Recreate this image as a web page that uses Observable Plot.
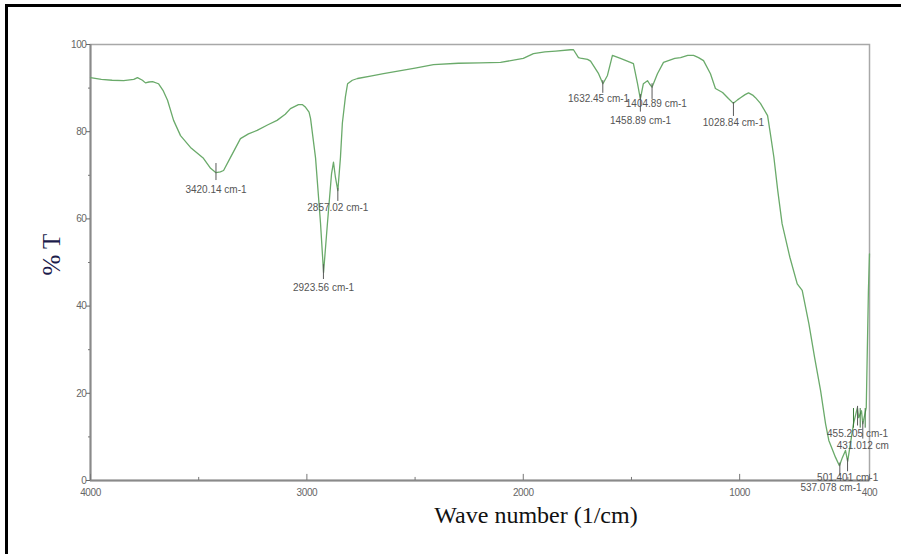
<!DOCTYPE html>
<html>
<head>
<meta charset="utf-8">
<script src="https://cdn.jsdelivr.net/npm/d3@7"></script>
<script src="https://cdn.jsdelivr.net/npm/@observablehq/plot@0.6"></script>
<style>
  html, body { margin: 0; padding: 0; background: #fff; width: 901px; height: 554px; overflow: hidden; }
  #wrap { position: relative; width: 901px; height: 554px; }
  #border { position: absolute; left: 5px; top: 4px; right: -10px; bottom: -10px;
            border-left: 3px solid #000; border-top: 3px solid #000; pointer-events: none; }
  #chart svg { display: block; position: absolute; left: 0; top: 0; }
  #chart svg text.narrow, #chart svg g[aria-label^="y-axis"] text, #chart svg g[aria-label^="x-axis"] text { letter-spacing: -0.4px; }
</style>
</head>
<body>
<div id="wrap"><div id="chart"></div><div id="border"></div></div>
<script>
// Spectrum: wavenumber (1/cm) and % transmittance
const wavenumbers = [4000, 3950, 3900, 3847, 3800, 3783, 3760, 3746, 3730, 3713, 3686, 3665, 3644, 3616, 3584, 3538, 3478, 3445, 3420, 3400, 3385, 3353, 3307, 3270, 3230, 3180, 3138, 3100, 3076, 3039, 3020, 3006, 2990, 2983, 2960, 2937, 2923, 2905, 2886, 2877, 2868, 2857, 2845, 2836, 2822, 2812, 2790, 2766, 2700, 2646, 2500, 2415, 2300, 2200, 2105, 2000, 1953, 1900, 1850, 1782, 1768, 1745, 1736, 1703, 1689, 1652, 1632, 1611, 1588, 1551, 1505, 1491, 1472, 1459, 1445, 1426, 1417, 1405, 1380, 1352, 1300, 1273, 1240, 1213, 1190, 1167, 1135, 1112, 1079, 1052, 1029, 1010, 996, 975, 959, 940, 927, 904, 871, 858, 842, 824, 804, 768, 734, 711, 680, 654, 626, 603, 588, 557, 539, 525, 511, 501, 488, 474, 456, 450, 437, 431, 415, 405, 400];
const transmittance = [92.4, 92.0, 91.8, 91.7, 92.0, 92.4, 91.8, 91.2, 91.4, 91.5, 91.0, 89.5, 87.2, 82.6, 79.1, 76.4, 73.9, 71.6, 70.6, 70.8, 71.1, 74.1, 78.4, 79.5, 80.3, 81.6, 82.6, 84.0, 85.3, 86.2, 86.2, 85.6, 84.5, 83.0, 74.0, 59.0, 47.7, 59.0, 70.4, 73.0, 69.5, 66.5, 74.0, 82.0, 88.0, 91.0, 91.8, 92.2, 92.8, 93.3, 94.6, 95.4, 95.7, 95.8, 95.9, 96.8, 97.9, 98.3, 98.5, 98.8, 98.8, 97.0, 96.9, 96.6, 96.2, 93.3, 91.0, 92.9, 97.5, 96.8, 95.9, 95.6, 91.0, 87.5, 91.0, 91.7, 91.0, 90.2, 93.3, 95.9, 96.8, 97.0, 97.5, 97.5, 97.0, 96.3, 93.3, 89.9, 89.0, 87.6, 86.5, 87.3, 87.8, 88.5, 88.9, 88.4, 87.8, 86.5, 83.7, 79.5, 74.2, 66.5, 58.9, 51.2, 45.1, 43.6, 35.9, 28.3, 20.6, 13.0, 9.2, 5.3, 3.4, 5.3, 6.9, 4.4, 8.5, 13.0, 16.7, 14.4, 16.0, 13.0, 16.7, 43.6, 52.0];

// Peak annotations (marker position, marker tick top/bottom in %T, label position)
const peakWn     = [3420.14, 2923.56, 2857.02, 1632.45, 1458.89, 1404.89, 1028.84, 537.078, 501.401, 431.012, 455.205];
const peakLabels = ["3420.14 cm-1", "2923.56 cm-1", "2857.02 cm-1", "1632.45 cm-1", "1458.89 cm-1", "1404.89 cm-1", "1028.84 cm-1", "537.078 cm-1", "501.401 cm-1", "431.012 cm", "455.205 cm-1"];
const tickTop    = [72.7, 49.5, 67.0, 91.7, 88.5, 91.0, 86.7, 4.0, 5.0, 13.5, 17.0];
const tickBottom = [68.8, 46.1, 64.0, 88.8, 84.5, 87.4, 83.5, 1.0, 2.0, 9.5, 12.5];
const labelWn    = [3420, 2923, 2857, 1652, 1458, 1385, 1029, 578, 501, 431, 455];
const labelT     = [66.7, 44.3, 62.6, 87.6, 82.6, 86.5, 82.1, -1.6, 0.7, 8.0, 10.8];
// extra small peak markers in the 400-480 cluster
const clusterWn  = [474, 443, 420];

// Axis ticks
const xTicks = [4000, 3000, 2000, 1000, 400];
const xMinor = [3500, 2500, 1500, 500];
const yTicks = [0, 20, 40, 60, 80, 100];
const yMinor = [10, 30, 50, 70, 90];

const xTitle = "Wave number (1/cm)";
const yTitle = "% T";

const spectrum = wavenumbers.map((w, i) => ({wn: w, t: transmittance[i]}));
const peaks = peakWn.map((w, i) => ({wn: w, label: peakLabels[i], top: tickTop[i], bottom: tickBottom[i], lx: labelWn[i], ly: labelT[i]}));

const sans = "'Liberation Sans', Arial, sans-serif";
const serif = "'Liberation Serif', 'Times New Roman', serif";

const chart = Plot.plot({
  width: 901,
  height: 554,
  marginLeft: 90,
  marginRight: 32,
  marginTop: 44,
  marginBottom: 74,
  x: {domain: [4000, 400]},
  y: {domain: [0, 100]},
  style: {fontFamily: sans, background: "transparent", overflow: "visible"},
  marks: [
    Plot.frame({stroke: "#a8a8a8", strokeWidth: 1.5}),
    Plot.ruleY([0], {stroke: "#8a8a8a", strokeWidth: 2}),
    Plot.ruleX([4000], {stroke: "#8a8a8a", strokeWidth: 2}),
    Plot.axisY({ticks: yTicks, tickSize: 4, tickPadding: 0, label: null, fontSize: 10, color: "#666", tickFormat: d => String(d)}),
    Plot.axisY({ticks: yMinor, tickSize: 2, tickPadding: 0, label: null, color: "#777", tickFormat: () => ""}),
    Plot.axisX({ticks: xTicks, tickSize: 0, tickPadding: 8, label: null, fontSize: 10, color: "#666", tickFormat: d => String(d)}),
    Plot.ruleX(xTicks, {x: d => d, y1: 0, y2: 1.4, stroke: "#777"}),
    Plot.ruleX(xMinor, {x: d => d, y1: 0, y2: 0.7, stroke: "#777"}),
    Plot.line(spectrum, {x: "wn", y: "t", stroke: "#6aaa6a", strokeWidth: 1.3, curve: "linear"}),
    Plot.ruleX(peaks, {x: "wn", y1: "bottom", y2: "top", stroke: "#5a5a5a", strokeWidth: 1}),
    Plot.ruleX(clusterWn, {x: d => d, y1: 12, y2: 16.5, stroke: "#3a7a3a", strokeWidth: 1}),
    Plot.text(peaks, {x: "lx", y: "ly", text: "label", fontSize: 10, fill: "#555", fontFamily: sans, className: "narrow"}),
    Plot.text([xTitle], {frameAnchor: "bottom", dx: 56, dy: 42, fontSize: 24, fill: "#111", fontFamily: serif}),
    Plot.text([yTitle], {frameAnchor: "left", dx: -39, dy: 13, rotate: -90, fontSize: 25, fill: "#1c1c4c", fontFamily: serif})
  ]
});
document.getElementById("chart").appendChild(chart);
</script>
</body>
</html>
